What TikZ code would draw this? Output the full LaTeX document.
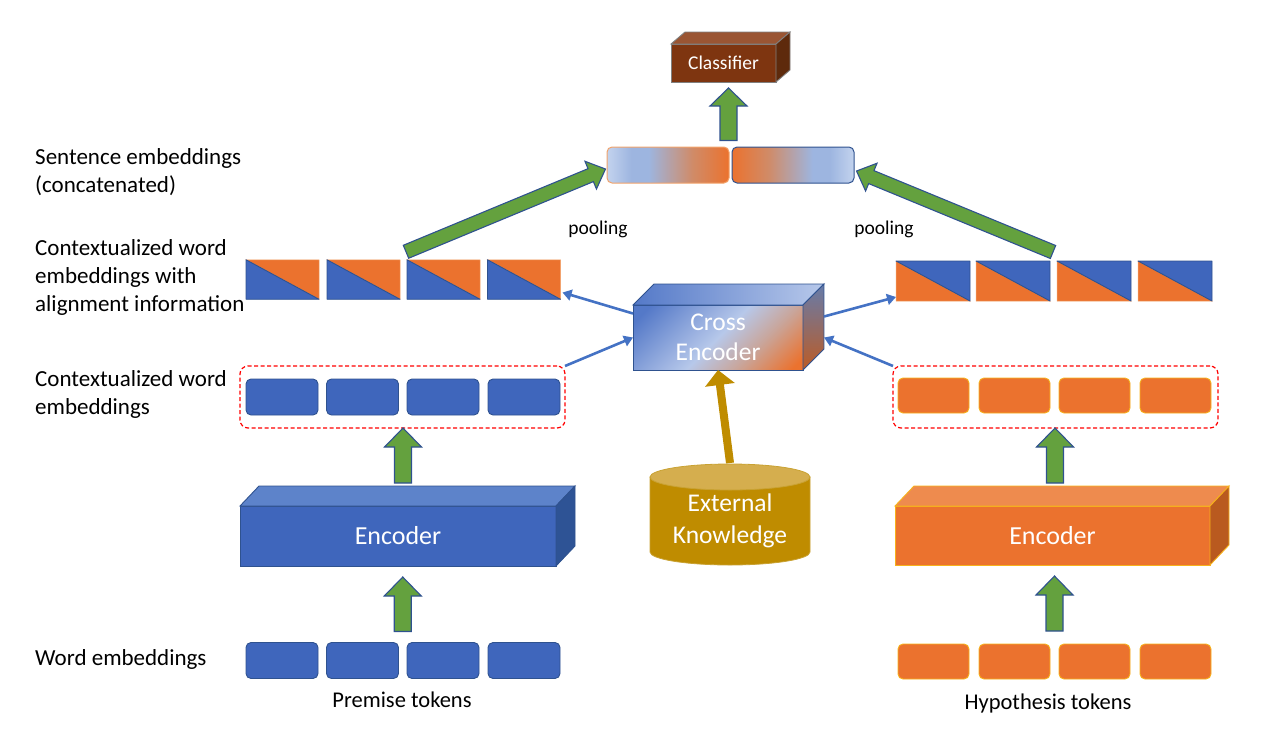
\documentclass[tikz,border=0pt]{standalone}
\usepackage{fontspec}
\setmainfont{Carlito}
\usetikzlibrary{arrows.meta,calc}
\definecolor{pblue}{HTML}{3F66BC}
\definecolor{pblueD}{HTML}{2F528F}
\definecolor{pblueT}{HTML}{5D83CA}
\definecolor{pblueS}{HTML}{2E5395}
\definecolor{porange}{HTML}{EB722E}
\definecolor{porangeT}{HTML}{EE8B4E}
\definecolor{porangeS}{HTML}{B95A1F}
\definecolor{pgold}{HTML}{F7B21B}
\definecolor{pgreen}{HTML}{64A13E}
\definecolor{arrblue}{HTML}{4472C4}
\definecolor{brownF}{HTML}{7E3510}
\definecolor{brownT}{HTML}{9A5533}
\definecolor{brownS}{HTML}{5E2A0C}
\definecolor{kgold}{HTML}{BF8C00}
\definecolor{kgoldT}{HTML}{D5AE4E}
\definecolor{kgoldE}{HTML}{C9A233}
\definecolor{lb1}{HTML}{C3D3EE}
\definecolor{lb2}{HTML}{9DB5E0}
\definecolor{mixo}{HTML}{D08B68}
\definecolor{ceA}{HTML}{5479C8}
\definecolor{ceB}{HTML}{B7C8EA}
\definecolor{ceC}{HTML}{C9A59A}
\definecolor{sLb}{HTML}{F2A36B}
\pgfdeclarehorizontalshading{sentL}{100bp}{color(0bp)=(lb1); color(25bp)=(lb1); color(35bp)=(lb2); color(42bp)=(lb2); color(60bp)=(mixo); color(75bp)=(porange); color(100bp)=(porange)}
\pgfdeclarehorizontalshading{sentR}{100bp}{color(0bp)=(porange); color(25bp)=(porange); color(40bp)=(mixo); color(58bp)=(lb2); color(65bp)=(lb2); color(75bp)=(lb1); color(100bp)=(lb1)}
\pgfdeclarehorizontalshading{crossS}{100bp}{color(0bp)=(ceA); color(20bp)=(ceA); color(50bp)=(ceB); color(65bp)=(ceC); color(82bp)=(porange); color(100bp)=(porange)}
\newcommand{\fsz}[2]{\fontsize{#1}{#2}\selectfont}
\newcommand{\cubfaces}[5]{%
  \path[#4] (#1.north west) -- ++(#2,-#3) -- ($(#1.north east)+(#2,-#3)$) -- (#1.north east) -- cycle;
  \path[#5] (#1.north east) -- ++(#2,-#3) -- ($(#1.south east)+(#2,-#3)$) -- (#1.south east) -- cycle;}
\newcommand{\blockarrow}[6]{\begingroup
  \path (#1); \pgfgetlastxy{\bax}{\bay}
  \path (#2); \pgfgetlastxy{\bbx}{\bby}
  \pgfmathsetmacro\bang{atan2(\bby-\bay,\bbx-\bax)}
  \pgfmathsetmacro\blen{veclen(\bbx-\bax,\bby-\bay)}
  \begin{scope}[shift={(\bax,\bay)}, rotate=\bang]
    \path[#6] (0,-#3) -- ({\blen-#5},-#3) -- ({\blen-#5},-#4) -- ({\blen},0) -- ({\blen-#5},#4) -- ({\blen-#5},#3) -- (0,#3) -- cycle;
  \end{scope}\endgroup}
\begin{document}
\begin{tikzpicture}[x=1pt,y=-1pt,
  lbl/.style={anchor=west, align=left, inner sep=0, font=\fsz{23}{28}},
  tokB/.style={rectangle, rounded corners=5pt, minimum width=72pt, minimum height=36pt, fill=pblue, draw=pblueD, line width=0.9pt, inner sep=0, outer sep=0},
  tokO/.style={rectangle, rounded corners=5pt, minimum width=71pt, minimum height=35pt, fill=porange, draw=pgold, line width=0.9pt, inner sep=0, outer sep=0},
  tribox/.style={rectangle, inner sep=0, outer sep=0},
  dashbox/.style={rectangle, rounded corners=8pt, draw=red, dash pattern=on 4pt off 2.5pt, line width=1.2pt, minimum width=325pt, minimum height=62pt, inner sep=0, outer sep=0},
  front/.style={rectangle, inner sep=0, outer sep=0, text=white, align=center},
  garrow/.style={fill=pgreen, draw=pblueD, line width=1.1pt, line join=miter},
  karrow/.style={fill=kgold},
  barrow/.style={draw=arrblue, line width=2.6pt, -{Triangle[length=9pt,width=11pt]}},
  wtxt/.style={text=white, align=center, inner sep=0}
]
\useasboundingbox (0,0) rectangle (1266,742);

% ---------- left labels
\node[lbl] (lab1) at (35,172) {Sentence embeddings\\(concatenated)};
\node[lbl] (lab2) at (35,277) {Contextualized word\\embeddings with\\alignment information};
\node[lbl] (lab3) at (35,394) {Contextualized word\\embeddings};
\node[lbl] (lab4) at (35,659) {Word embeddings};

% ---------- classifier
\node[front, minimum width=105pt, minimum height=38pt, fill=brownF, draw=gray, line width=0.9pt, font=\fsz{19.5}{23}] (cls) at (723.5,63) {Classifier};
\cubfaces{cls}{14}{12}{fill=brownT, draw=gray, line width=0.9pt}{fill=brownS, draw=gray, line width=0.9pt}

% ---------- sentence embedding bar
\node[rectangle, rounded corners=5pt, minimum width=122pt, minimum height=36pt, shading=sentL, draw=sLb, line width=1pt] (sL) at (668,165) {};
\node[rectangle, rounded corners=5pt, minimum width=122pt, minimum height=36pt, shading=sentR, draw=pblueD, line width=1pt] (sR) at (793,165) {};

% arrow to classifier
\coordinate (cA) at ($(sL.north east)!.5!(sR.north west)+(-2,-6)$);
\blockarrow{cA}{$(cA |- cls.south)+(0,6)$}{8.5}{18.5}{18}{garrow}

% pooling
\node[font=\fsz{19.5}{23}] (pool1) at (598,229) {pooling};
\node[font=\fsz{19.5}{23}] (pool2) at (884,229) {pooling};

% ---------- triangle boxes
\foreach \n/\x in {1/282.5,2/363.5,3/443.5,4/524}{
  \node[tribox, minimum width=73pt, minimum height=39.5pt] (tl\n) at (\x,279.5) {};
  \fill[porange, draw=sLb, line width=0.5pt] (tl\n.north west) -- (tl\n.north east) -- (tl\n.south east) -- cycle;
  \filldraw[fill=pblue, draw=pblueD, line width=0.9pt, line join=round] (tl\n.north west) -- (tl\n.south west) -- (tl\n.south east) -- cycle;
}
\foreach \n/\x in {1/933,2/1013,3/1094,4/1175}{
  \node[tribox, minimum width=74pt, minimum height=40pt] (tr\n) at (\x,281) {};
  \fill[porange, draw=sLb, line width=0.5pt] (tr\n.north west) -- (tr\n.south west) -- (tr\n.south east) -- cycle;
  \filldraw[fill=pblue, draw=pblueD, line width=0.9pt, line join=round] (tr\n.north west) -- (tr\n.north east) -- (tr\n.south east) -- cycle;
}

% diagonal pooling arrows
\coordinate (tL) at ($(tl3.north west)+(-1,-8)$);
\coordinate (tR) at ($(tr3.north west)+(-4,-9)$);
\blockarrow{tL}{$(sL.west)+(-1,4)$}{7}{15}{16}{garrow}
\blockarrow{tR}{$(sR.east)+(2,6)$}{7}{15}{16}{garrow}

% ---------- cross encoder
\node[front, minimum width=170pt, minimum height=65pt, shading=crossS, shading angle=-45, draw=pblueD, line width=0.9pt, font=\fsz{25.5}{30}] (ce) at (718,337.5) {Cross\\Encoder};
\cubfaces{ce}{21}{21}{left color=ceA, right color=ceB, draw=pblueD, line width=0.9pt}{top color=ceA!60!gray, bottom color=porange!80!black, draw=pblueD, line width=0.9pt}

% ---------- dashed groups and middle tokens
\node[dashbox] (dashL) at (402.5,397) {};
\node[dashbox] (dashR) at (1055.5,397) {};
\foreach \n/\x in {1/282,2/362.5,3/443,4/524}{
  \node[tokB] (ml\n) at (\x,397) {};
  \node[tokB] (pl\n) at (\x,660.5) {};
}
\foreach \n/\x in {1/933.5,2/1014.5,3/1094.5,4/1175.5}{
  \node[tokO] (mr\n) at (\x,395.5) {};
  \node[tokO] (pr\n) at (\x,661.5) {};
}

% thin blue arrows
\draw[barrow] (dashL.north east) -- (ce.west);
\draw[barrow] ([yshift=24pt]ce.west) -- ([shift={(2,13)}]tl4.east);
\draw[barrow] ($(ce.east)+(21,-21)$) -- ([shift={(0,16)}]tr1.west);
\draw[barrow] (dashR.north west) -- ($(ce.east)+(21,0)$);

% ---------- encoders
\node[front, minimum width=316pt, minimum height=60pt, fill=pblue, draw=pblueD, line width=0.9pt, font=\fsz{26}{30}] (encL) at (398,536) {Encoder};
\cubfaces{encL}{19}{20}{fill=pblueT, draw=pblueD, line width=0.9pt}{fill=pblueS, draw=pblueD, line width=0.9pt}
\node[front, minimum width=315pt, minimum height=59pt, fill=porange, draw=pgold, line width=0.9pt, font=\fsz{26}{30}] (encR) at (1052.5,535.5) {Encoder};
\cubfaces{encR}{19}{20}{fill=porangeT, draw=pgold, line width=0.9pt}{fill=porangeS, draw=pgold, line width=0.9pt}

% green arrows encoder -> contextual
\coordinate (gL1) at (403,483);
\coordinate (gR1) at (1055,483);
\blockarrow{gL1}{gL1 |- dashL.south}{8.5}{18.5}{19}{garrow}
\blockarrow{gR1}{gR1 |- dashR.south}{8.5}{18.5}{19}{garrow}
% green arrows tokens -> encoder
\coordinate (gL0) at ($(pl2.north east)!.5!(pl3.north west)+(0,-11)$);
\coordinate (gR0) at ($(pr2.north east)!.5!(pr3.north west)+(0,-13)$);
\blockarrow{gL0}{$(gL0 |- encL.south)+(0,11)$}{8.5}{18.5}{19}{garrow}
\blockarrow{gR0}{$(gR0 |- encR.south)+(0,11)$}{8.5}{18.5}{19}{garrow}

% ---------- external knowledge cylinder
\node[rectangle, minimum width=160pt, minimum height=102pt, inner sep=0, outer sep=0] (ek) at (730,514) {};
\draw[fill=kgold, draw=kgoldE, line width=0.8pt] ($(ek.north west)+(0,14)$) -- ($(ek.south west)+(0,-13)$) arc[start angle=180, end angle=360, x radius=80pt, y radius=13pt] -- ($(ek.north east)+(0,14)$) -- cycle;
\draw[fill=kgoldT, draw=kgoldE, line width=0.8pt] ($(ek.north)+(0,14)$) ellipse[x radius=80pt, y radius=13pt];
\node[wtxt, font=\fsz{25.5}{32}] (ekt) at ($(ek.center)+(0,7)$) {External\\Knowledge};
\blockarrow{ek.north}{ce.south}{4}{15}{15}{karrow}

% ---------- bottom captions
\node[font=\fsz{22.5}{26}] (prem) at (402,700) {Premise tokens};
\node[font=\fsz{22.5}{26}] (hyp) at (1048,703) {Hypothesis tokens};
\end{tikzpicture}
\end{document}
